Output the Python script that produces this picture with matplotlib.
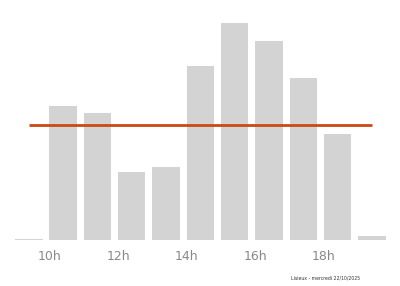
import matplotlib
matplotlib.use("Agg")
import numpy as np
import matplotlib.pyplot as plt

# heures et valeurs
heures = [9, 10, 11, 12, 13, 14, 15, 16, 17, 18, 19]
valeurs = [1, 134, 127, 68, 73, 174, 217, 199, 162, 106, 4]
ticks = [10, 12, 14, 16, 18]
labels = ["10h", "12h", "14h", "16h", "18h"]
legende = "Lisieux - mercredi 22/10/2025"

moyenne = np.mean(valeurs)

fig = plt.figure(figsize=(4, 2.86), dpi=100)
ax = fig.add_axes([0, 46 / 286, 1, 230 / 286])

ax.bar(heures, valeurs, width=0.8, align="edge", color="#d3d3d3")
# ligne de moyenne, du centre de la premiere barre au centre de la derniere
ax.plot([heures[0] + 0.4, heures[-1] + 0.4], [moyenne, moyenne],
        color="#c94a14", linewidth=2, solid_capstyle="butt")

ax.set_xlim(8.56, 20.22)
ax.set_ylim(0, 230)
ax.set_xticks(ticks)
ax.set_xticklabels(labels, color="#888888", fontsize=9)
ax.tick_params(axis="x", length=0, pad=7)
ax.set_yticks([])
for s in ax.spines.values():
    s.set_visible(False)

fig.text(291 / 400, 1 - 278 / 286, legende, fontsize=3.3, color="#333333",
         va="center", ha="left")

plt.savefig("out.png", dpi=100)
